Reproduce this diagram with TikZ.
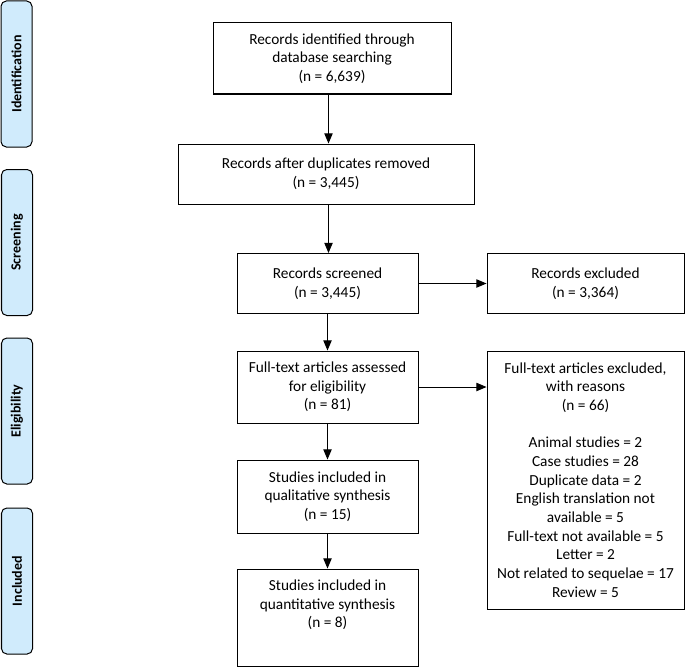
\documentclass[tikz,border=0pt]{standalone}
\usepackage{fontspec}
\setmainfont{Carlito}
\usetikzlibrary{arrows}
\definecolor{stageblue}{RGB}{208,235,252}

\begin{document}
\begin{tikzpicture}[>=triangle 45,x=0.75pt,y=-0.75pt,
box/.style={draw,line width=0.75pt,align=center,inner sep=2pt,
font=\fontsize{11.5}{14}\selectfont},
stage/.style={draw,line width=0.75pt,fill=stageblue,rounded corners=4pt,
rotate=90,minimum width=109.5pt,minimum height=23.25pt,
font=\fontsize{10.5}{13}\selectfont\bfseries},
flow/.style={->,line width=0.75pt}]
\useasboundingbox (0,0) rectangle (685,667);
% Stages on the left
\node[stage] (ident) at (16.5,74) {Identification};
\node[stage] (screen) at (17,242.5) {Screening};
\node[stage] (elig) at (17,411) {Eligibility};
\node[stage] (incl) at (17,581) {Included};
% Main column
\node[box,minimum width=178.5pt,minimum height=53.25pt] (found) at (332,58.5)
{Records identified through\\database searching\\(n = 6,639)};
\node[box,minimum width=222pt,minimum height=45pt] (nodup) at (326,174)
{Records after duplicates removed\\(n = 3,445)};
\node[box,minimum width=135.75pt,minimum height=45pt] (screened) at (327.5,283.5)
{Records screened\\(n = 3,445)};
\node[box,minimum width=135.75pt,minimum height=54pt] (fulltext) at (327.5,387)
{Full-text articles assessed\\for eligibility\\(n = 81)};
\node[box,minimum width=135.75pt,minimum height=54.75pt] (qual) at (327.5,496.5)
{Studies included in\\qualitative synthesis\\(n = 15)};
\node[box,minimum width=135.75pt,minimum height=72.75pt] (quant) at (327.5,617.5) {};
\node[align=center,font=\fontsize{11.5}{14}\selectfont] (quanttxt) at (327.5,605)
{Studies included in\\quantitative synthesis\\(n = 8)};
% Exclusions on the right
\node[box,minimum width=147.75pt,minimum height=45pt] (excl) at (585.5,283.5)
{Records excluded\\(n = 3,364)};
\node[box,minimum width=147.75pt,minimum height=193.5pt] (reasons) at (585.5,480)
{Full-text articles excluded,\\with reasons\\(n = 66)\\[14pt]
Animal studies = 2\\Case studies = 28\\Duplicate data = 2\\
English translation not\\available = 5\\Full-text not available = 5\\
Letter = 2\\Not related to sequelae = 17\\Review = 5};
% Arrows
\coordinate (spine) at (328.5,0);
\draw[flow] (found.south -| spine) -- (nodup.north -| spine);
\draw[flow] (nodup.south -| spine) -- (screened.north -| spine);
\draw[flow] (screened) -- (fulltext);
\draw[flow] (fulltext) -- (qual);
\draw[flow] (qual) -- (quant);
\draw[flow] (screened) -- (excl);
\draw[flow] (fulltext.east) -- (fulltext.east -| reasons.west);
\end{tikzpicture}
\end{document}
